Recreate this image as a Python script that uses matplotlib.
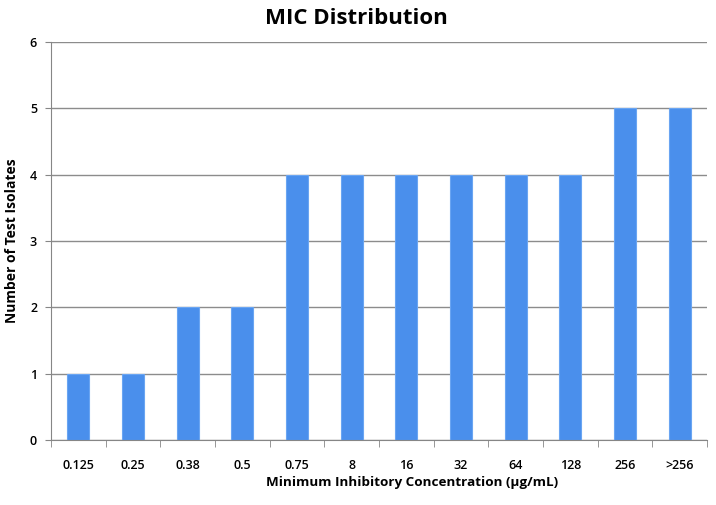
import numpy as np
import matplotlib.pyplot as plt

categories = ['0.125', '0.25', '0.38', '0.5', '0.75', '8', '16', '32', '64', '128', '256', '>256']
counts = [1, 1, 2, 2, 4, 4, 4, 4, 4, 4, 5, 5]

plt.rcParams['font.family'] = ['Open Sans', 'DejaVu Sans']

fig = plt.figure(figsize=(7.16, 5.05), dpi=100)
ax = fig.add_axes([0.0712, 0.1287, 0.9162, 0.7881])

x = np.arange(len(categories))
ax.bar(x, counts, 0.4, color='#4a8fec', edgecolor='#6aa5f2', linewidth=0.8, zorder=2)

ax.set_xlim(-0.5, len(categories) - 0.5)
ax.set_ylim(0, 6)
ax.set_yticks(np.arange(0, 7, 1))
ax.set_xticks(x)
ax.set_xticklabels(categories)
ax.set_xticks(np.arange(-0.5, len(categories), 1), minor=True)
ax.tick_params(axis='x', which='major', length=0, pad=14, labelsize=9)
ax.tick_params(axis='x', which='minor', length=5, color='#868686', direction='out')
ax.tick_params(axis='y', length=4, color='#868686', labelsize=9, pad=6)
for t in ax.get_yticklabels() + ax.get_xticklabels():
    t.set_fontweight('semibold')

ax.grid(axis='y', color='#8c8c8c', linewidth=1, zorder=0)
for s in ['top', 'right']:
    ax.spines[s].set_visible(False)
ax.spines['left'].set_color('#868686')
ax.spines['bottom'].set_color('#868686')

ax.set_title('MIC Distribution', fontsize=16, fontweight='bold', x=0.466, pad=13)
ax.set_xlabel('Minimum Inhibitory Concentration (\u00b5g/mL)', fontsize=9.7, fontweight='bold')
ax.xaxis.set_label_coords(0.55, -0.09)
ax.set_ylabel('Number of Test Isolates', fontsize=10, fontweight='bold')
ax.yaxis.set_label_coords(-0.049, 0.5)

plt.savefig('out.png', dpi=100)
